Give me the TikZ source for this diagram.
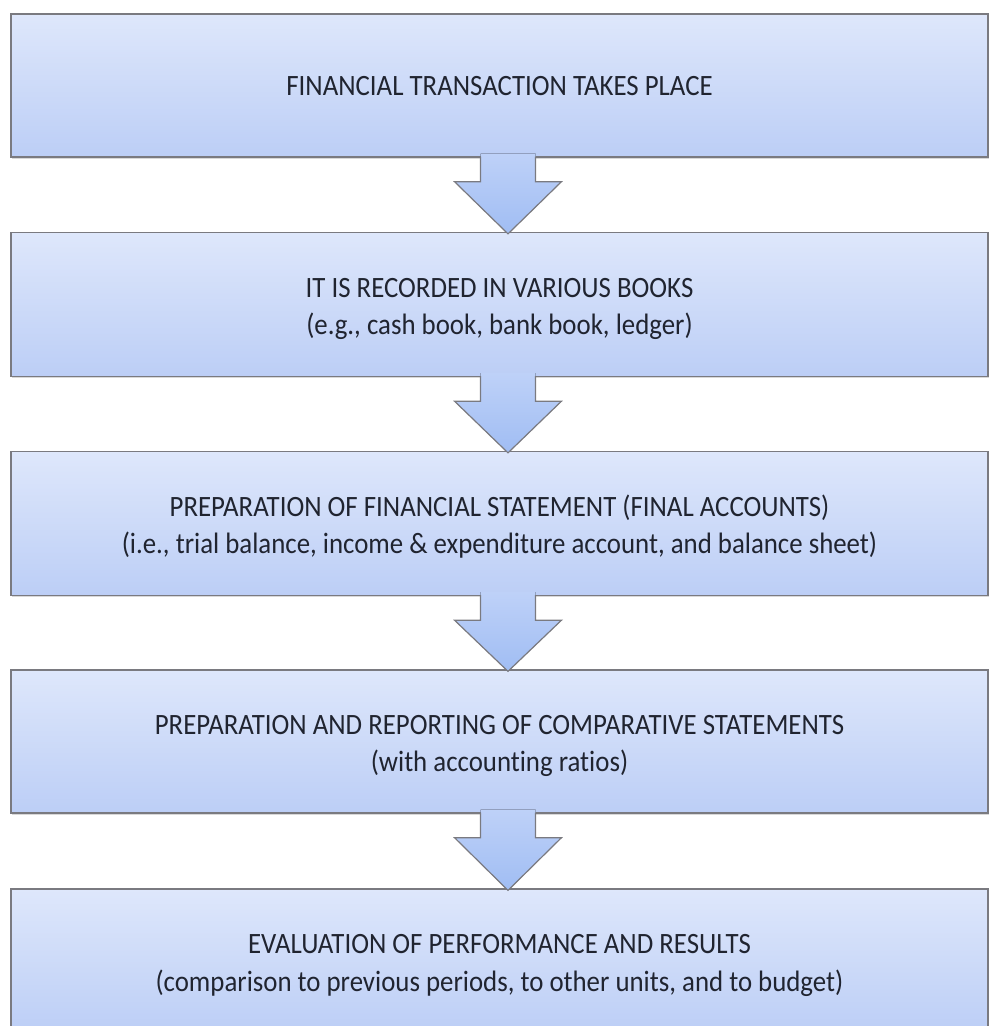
\documentclass[tikz,border=0pt]{standalone}
\usepackage{fontspec}
\setmainfont{Carlito}[FakeStretch=0.91, Ligatures=NoCommon]
\usetikzlibrary{calc,shadows}

\definecolor{boxtop}{RGB}{222,231,251}
\definecolor{boxbot}{RGB}{188,206,246}
\definecolor{edge}{RGB}{122,122,128}
\definecolor{arrtop}{RGB}{190,209,248}
\definecolor{arrbot}{RGB}{160,189,243}
\definecolor{ink}{RGB}{32,36,48}

\tikzset{
  stepbox/.style={draw=edge, line width=1.3pt, top color=boxtop, bottom color=boxbot,
    minimum width=977pt, minimum height=144pt, inner sep=0pt,
    text=ink, font=\fontsize{29.5}{37.5}\selectfont,
    drop shadow={shadow xshift=1pt, shadow yshift=-1.5pt, opacity=0.3}},
  arrowfill/.style={top color=arrtop, bottom color=arrbot},
  arrowedge/.style={draw=edge, line width=1.2pt, line join=miter}
}

% centred lines of a step; the first baseline sits #1 above the middle of the box
\newcommand\steplines[2][7.5pt]{\smash{\raisebox{#1}{\begin{tabular}[t]{@{}c@{}}#2\end{tabular}}}}

% block arrow from the bottom of one step to the top of the next
\newcommand\flowarrow[2]{%
  \fill[arrowfill] ($(#1.south)+(-19,-4)$) -- ($(#1.south)+(-19,24)$)
    -- ($(#1.south)+(-45,24)$) -- ($(#2.north)+(8.5,2)$)
    -- ($(#1.south)+(62,24)$) -- ($(#1.south)+(36,24)$)
    -- ($(#1.south)+(36,-4)$) -- cycle;
  \draw[arrowedge] ($(#1.south)+(-19,-1)$) -- ($(#1.south)+(-19,24)$)
    -- ($(#1.south)+(-45,24)$) -- ($(#2.north)+(8.5,2)$)
    -- ($(#1.south)+(62,24)$) -- ($(#1.south)+(36,24)$)
    -- ($(#1.south)+(36,-1)$);
}

\begin{document}
\begin{tikzpicture}[x=1pt, y=-1pt]
  \clip (0,0) rectangle (992,1026);
  \fill[white] (0,0) rectangle (992,1026);

  \node[stepbox, minimum height=143pt] (s1) at (499.5,85.5)
    {\steplines[-10pt]{FINANCIAL TRANSACTION TAKES PLACE}};
  \node[stepbox] (s2) at (499.5,304.5)
    {\steplines{IT IS RECORDED IN VARIOUS BOOKS\\(e.g., cash book, bank book, ledger)}};
  \node[stepbox] (s3) at (499.5,523.5)
    {\steplines{PREPARATION OF FINANCIAL STATEMENT (FINAL ACCOUNTS)\\(i.e., trial balance, income \& expenditure account, and balance sheet)}};
  \node[stepbox, minimum height=143pt] (s4) at (499.5,741.5)
    {\steplines{PREPARATION AND REPORTING OF COMPARATIVE STATEMENTS\\(with accounting ratios)}};
  \node[stepbox] (s5) at (499.5,961)
    {\steplines{EVALUATION OF PERFORMANCE AND RESULTS\\(comparison to previous periods, to other units, and to budget)}};

  \flowarrow{s1}{s2}
  \flowarrow{s2}{s3}
  \flowarrow{s3}{s4}
  \flowarrow{s4}{s5}
\end{tikzpicture}
\end{document}
